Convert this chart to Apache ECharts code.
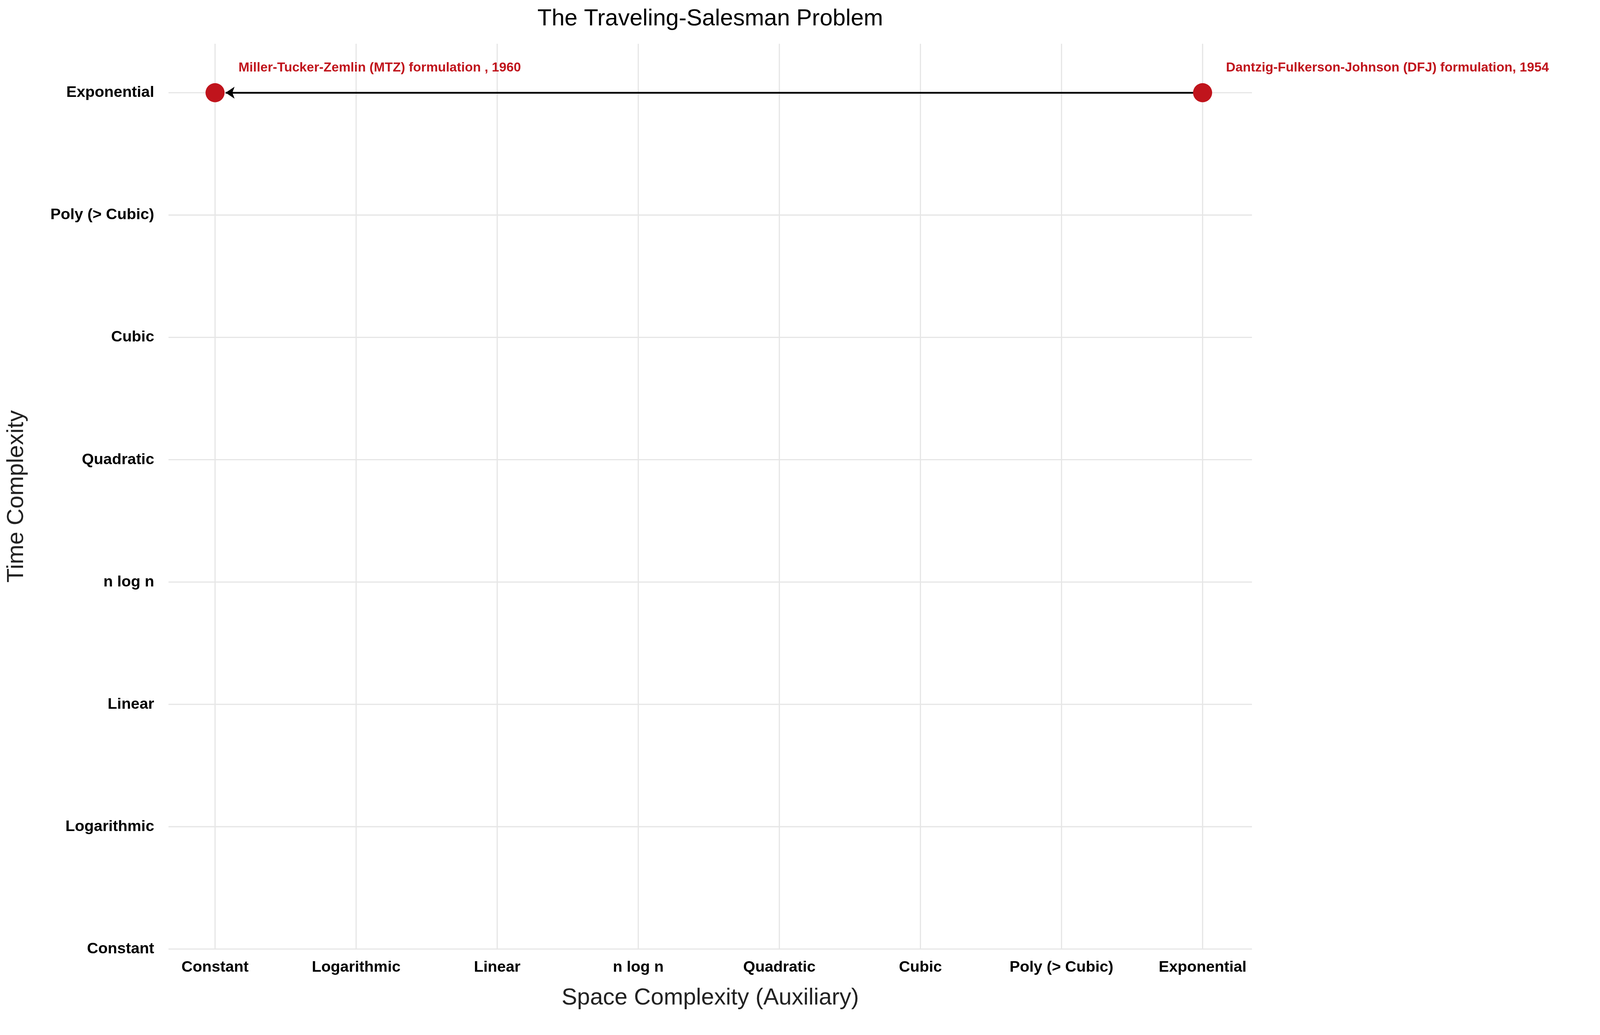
<!DOCTYPE html>
<html>
<head>
<meta charset="utf-8">
<script src="https://cdn.jsdelivr.net/npm/echarts@6/dist/echarts.min.js"></script>
<style>html,body{margin:0;padding:0;background:#fff;overflow:hidden}#chart{width:100vw;height:100vh}</style>
</head>
<body>
<div id="chart"></div>
<script>
const levels = ['Constant', 'Logarithmic', 'Linear', 'n log n', 'Quadratic', 'Cubic', 'Poly (> Cubic)', 'Exponential'];
const algoNames = ['Miller-Tucker-Zemlin (MTZ) formulation , 1960', 'Dantzig-Fulkerson-Johnson (DFJ) formulation, 1954'];
const spaceIdx = [0, 7];
const timeIdx = [7, 7];
// arrow from DFJ to MTZ (end stops at point edge)
const arrowFrom = [7, 7];
const arrowTo = [0.075, 7];

const red = '#C0141C';
const dom = document.getElementById('chart');
const chart = echarts.init(dom);
const fontFamily = 'Liberation Sans, Arial, sans-serif';
const W = dom.clientWidth, H = dom.clientHeight;
const k = W / 5365;   // scale reference pixel sizes
const ky = H / 2649;

chart.setOption({
  animation: false,
  backgroundColor: '#fff',
  title: {
    text: 'The Traveling-Salesman Problem',
    left: 2375 * k, top: 14 * ky, textAlign: 'center',
    textStyle: { fontFamily, fontSize: 78 * k, fontWeight: 'normal', color: '#000' }
  },
  grid: { left: 565 * k, right: 1167 * k, top: 112 * ky, bottom: 220 * ky },
  xAxis: {
    type: 'value', min: -0.33, max: 7.35, interval: 1,
    name: 'Space Complexity (Auxiliary)', nameLocation: 'middle', nameGap: 125 * k,
    nameTextStyle: { fontFamily, fontSize: 78 * k, color: '#222' },
    axisLine: { show: false }, axisTick: { show: false },
    axisLabel: {
      fontFamily, fontSize: 52 * k, fontWeight: 'bold', color: '#000', margin: 36 * k,
      customValues: [0, 1, 2, 3, 4, 5, 6, 7],
      formatter: v => levels[Math.round(v)]
    },
    splitLine: { show: false }
  },
  yAxis: {
    type: 'value', min: 0, max: 7.4,
    name: 'Time Complexity', nameLocation: 'middle', nameGap: 470 * k,
    nameTextStyle: { fontFamily, fontSize: 78 * k, color: '#222' },
    axisLine: { show: false }, axisTick: { show: false },
    axisLabel: {
      fontFamily, fontSize: 52 * k, fontWeight: 'bold', color: '#000', margin: 48 * k,
      customValues: [0, 1, 2, 3, 4, 5, 6, 7],
      formatter: v => levels[Math.round(v)]
    },
    splitLine: { show: false }
  },
  series: [
    {
      type: 'custom', silent: true, z: 0,
      renderItem: (params, api) => {
        if (params.dataIndexInside !== 0) return;
        const ch = [];
        for (let i = 0; i < levels.length; i++) {
          const a = api.coord([-0.33, i]), b = api.coord([7.35, i]);
          ch.push({ type: 'line', shape: { x1: a[0], y1: a[1], x2: b[0], y2: b[1] }, style: { stroke: '#e6e6e6', lineWidth: 4 * k } });
          const c = api.coord([i, 0]), d = api.coord([i, 7.4]);
          ch.push({ type: 'line', shape: { x1: c[0], y1: c[1], x2: d[0], y2: d[1] }, style: { stroke: '#e6e6e6', lineWidth: 4 * k } });
        }
        return { type: 'group', children: ch };
      },
      data: [[0, 0]]
    },
    {
      type: 'lines', coordinateSystem: 'cartesian2d', z: 2,
      symbol: ['none', 'arrow'], symbolSize: 30 * k,
      lineStyle: { color: '#000', width: 6 * k, opacity: 1 },
      data: [{ coords: [arrowFrom, arrowTo] }]
    },
    {
      type: 'scatter', z: 3, symbolSize: 64 * k,
      itemStyle: { color: red, opacity: 1 },
      label: {
        show: true, position: 'right', offset: [40 * k, -64 * ky],
        formatter: p => algoNames[p.dataIndex],
        fontFamily, fontSize: 44 * k, fontWeight: 'bold', color: red
      },
      data: spaceIdx.map((s, i) => [s, timeIdx[i]])
    }
  ]
});
</script>
</body>
</html>
